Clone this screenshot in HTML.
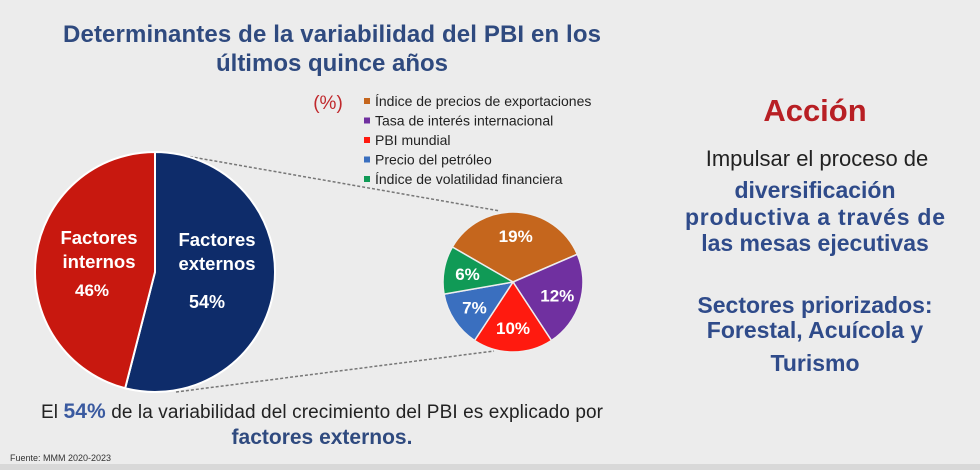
<!DOCTYPE html>
<html><head><meta charset="utf-8"><style>
body{margin:0;width:980px;height:470px;background:#ececec;overflow:hidden;font-family:"Liberation Sans",sans-serif;}
svg{position:absolute;left:0;top:0}
</style></head><body>
<svg id="chart" width="980" height="470">
<rect x="0" y="464" width="980" height="6" fill="#d8d8d8"/>
<text x="332" y="42" text-anchor="middle" font-size="24" font-weight="bold" fill="#2f4a7f" textLength="538">Determinantes de la variabilidad del PBI en los</text>
<text x="332" y="71" text-anchor="middle" font-size="24" font-weight="bold" fill="#2f4a7f">últimos quince años</text>
<text x="328" y="109" text-anchor="middle" font-size="19" fill="#c0282c">(%)</text>
<line x1="175" y1="154" x2="500" y2="211" stroke="#777" stroke-width="1.5" stroke-dasharray="3,2"/>
<line x1="176" y1="392" x2="494" y2="351" stroke="#777" stroke-width="1.5" stroke-dasharray="3,2"/>
<g id="bigpie"></g>
<g id="smallpie"></g>
<g id="legend"></g>
<text x="322" y="418" text-anchor="middle" font-size="19" fill="#222" textLength="562">El <tspan font-weight="bold" fill="#3a5aa0" font-size="21">54%</tspan> de la variabilidad del crecimiento del PBI es explicado por</text>
<text x="322" y="444" text-anchor="middle" font-size="21" font-weight="bold" fill="#2f4a7f">factores externos.</text>
<text x="10" y="461" font-size="9" fill="#333">Fuente: MMM 2020-2023</text>
<text x="815" y="121" text-anchor="middle" font-size="31" font-weight="bold" fill="#b81f24">Acción</text>
<g font-size="23" text-anchor="middle">
<text x="817" y="166" fill="#222" font-size="22">Impulsar el proceso de</text>
<text x="815" y="198" font-weight="bold" fill="#2f4b8a">diversificación</text>
<text x="815" y="225" font-weight="bold" fill="#2f4b8a" textLength="260">productiva a través de</text>
<text x="815" y="251" font-weight="bold" fill="#2f4b8a">las mesas ejecutivas</text>
<text x="815" y="313" font-weight="bold" fill="#2f4b8a">Sectores priorizados:</text>
<text x="815" y="338" font-weight="bold" fill="#2f4b8a">Forestal, Acuícola y</text>
<text x="815" y="371" font-weight="bold" fill="#2f4b8a">Turismo</text>
</g>
</svg>
<script>
const mainCategories=["Factores externos","Factores internos"];
const mainValues=[54,46];
const extCategories=["Índice de precios de exportaciones","Tasa de interés internacional","PBI mundial","Precio del petróleo","Índice de volatilidad financiera"];
const extValues=[19,12,10,7,6];
const extLabels=["19%","12%","10%","7%","6%"];
const NS="http://www.w3.org/2000/svg";
function mk(t,a,p){const e=document.createElementNS(NS,t);for(const k in a)e.setAttribute(k,a[k]);p.appendChild(e);return e;}
function pt(cx,cy,r,deg){const a=deg*Math.PI/180;return [cx+r*Math.sin(a),cy-r*Math.cos(a)];}
function slice(cx,cy,r,a0,a1){const p0=pt(cx,cy,r,a0),p1=pt(cx,cy,r,a1);const lg=(a1-a0)>180?1:0;return `M${cx},${cy}L${p0[0]},${p0[1]}A${r},${r} 0 ${lg} 1 ${p1[0]},${p1[1]}Z`;}
const big=document.getElementById('bigpie');
const bigColors=["#0e2c6a","#c8180f"];
let tot=mainValues.reduce((a,b)=>a+b,0),acc=0;
mainValues.forEach((v,i)=>{const a0=acc/tot*360,a1=(acc+v)/tot*360;acc+=v;
const p=mk('path',{d:slice(155,272,120,a0,a1),fill:bigColors[i],stroke:"#fff","stroke-width":2},big);

});
const bl=[["Factores",217,246,18.5],["externos",217,270,18.5],[mainValues[0]+"%",207,308,18],["Factores",99,244,18.5],["internos",99,268,18.5],[mainValues[1]+"%",92,296,17]];
bl.forEach((b,i)=>{const t=mk('text',{x:b[1],y:b[2],"text-anchor":"middle","font-size":b[3],"font-weight":"bold",fill:"#fff"},big);t.textContent=b[0];

});
const sm=document.getElementById('smallpie');
const extColors=["#c5661d","#7030a0","#ff1a0f","#3a6fbf","#109a56"];
const cx=513,cy=282,r=70,start=-60;
tot=extValues.reduce((a,b)=>a+b,0);acc=0;
extValues.forEach((v,i)=>{const a0=start+acc/tot*360,a1=start+(acc+v)/tot*360;acc+=v;
const p=mk('path',{d:slice(cx,cy,r,a0,a1),fill:extColors[i],stroke:"#eee","stroke-width":1.5},sm);


const m=pt(cx,cy,r*0.66,(a0+a1)/2);
const t=mk('text',{x:m[0],y:m[1]+6,"text-anchor":"middle","font-size":17,"font-weight":"bold",fill:"#fff"},sm);t.textContent=extLabels[i];

});
const lg=document.getElementById('legend');
extCategories.forEach((c,i)=>{const y=101+i*19.5;
const s=mk('rect',{x:364,y:y-3,width:6,height:6,fill:extColors[i]},lg);


const t=mk('text',{x:375,y:y+5,"font-size":14,fill:"#222"},lg);t.textContent=c;

});
</script>
</body></html>
